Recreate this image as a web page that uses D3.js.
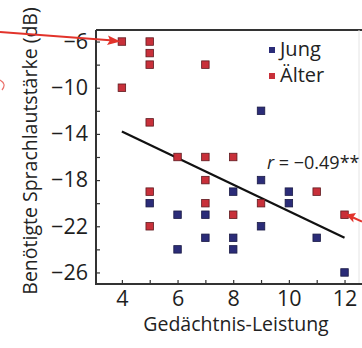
<!DOCTYPE html>
<html lang="de">
<head>
<meta charset="utf-8">
<script src="https://d3js.org/d3.v7.min.js"></script>
<style>
body { margin: 0; background: #fff; }
svg { font-family: "Open Sans", sans-serif; }
</style>
</head>
<body>
<script>
// data
var jungX = [9, 9, 8, 10, 5, 10, 6, 7, 9, 7, 8, 11, 6, 8, 12];
var jungY = [-12, -18, -19, -19, -20, -20, -21, -21, -22, -23, -23, -23, -24, -24, -26];
var alterX = [4, 5, 5, 5, 7, 4, 5, 6, 7, 8, 7, 5, 11, 7, 9, 8, 12, 5];
var alterY = [-6, -6, -7, -8, -8, -10, -13, -16, -16, -16, -18, -19, -19, -20, -20, -21, -21, -22];
var fitX = [4, 12];
var fitY = [-13.8, -23.0];
var yTickLabels = [-26, -22, -18, -14, -10, -6];
var xTickLabels = [4, 6, 8, 10, 12];
var seriesNames = ["Jung", "Älter"];
var seriesColors = ["#2b2c78", "#c8303a"];
var seriesStroke = ["#1b1b45", "#5e1a1f"];

var width = 362, height = 348;
var pLeft = 96, pRight = 359, pTop = 30, pBottom = 284;

var svg = d3.select("body").append("svg")
    .attr("width", width)
    .attr("height", height);

var x = d3.scaleLinear().domain([3.07, 12.52]).range([pLeft, pRight]);
var y = d3.scaleLinear().domain([-27, -5]).range([pBottom, pTop]);

// frame
svg.append("line").attr("x1", pLeft).attr("x2", width).attr("y1", pTop).attr("y2", pTop)
    .attr("stroke", "#333").attr("stroke-width", 2);
svg.append("line").attr("x1", pRight).attr("x2", pRight).attr("y1", pTop).attr("y2", pBottom)
    .attr("stroke", "#e4e4e4").attr("stroke-width", 1);

// y axis, ticks inward
var yAxis = d3.axisLeft(y)
    .tickValues(d3.range(-26, -5, 2))
    .tickSize(-4)
    .tickPadding(8)
    .tickFormat(function(d) { return yTickLabels.indexOf(d) >= 0 ? d3.format("d")(d) : ""; });
var gy = svg.append("g").attr("transform", "translate(" + pLeft + ",0)").call(yAxis);
gy.select(".domain").attr("d", "M0," + pTop + "V" + pBottom).attr("stroke", "#333").attr("stroke-width", 2);

// x axis, ticks inward
var xAxis = d3.axisBottom(x)
    .tickValues(d3.range(4, 13, 1))
    .tickSize(-4)
    .tickPadding(7)
    .tickFormat(function(d) { return xTickLabels.indexOf(d) >= 0 ? d : ""; });
var gx = svg.append("g").attr("transform", "translate(0," + pBottom + ")").call(xAxis);
gx.select(".domain").attr("d", "M" + (pLeft - 1) + ",0H" + width).attr("stroke", "#333").attr("stroke-width", 2);

svg.selectAll(".tick line").attr("stroke", "#333").attr("stroke-width", 1.2);
svg.selectAll(".tick text").attr("font-family", "Open Sans").attr("font-size", 21.5).attr("fill", "#1e1e1e");

// axis titles
svg.append("text")
    .attr("transform", "translate(37,151) rotate(-90)")
    .attr("text-anchor", "middle")
    .attr("font-size", 19.5).attr("fill", "#222")
    .text("Benötigte Sprachlautstärke (dB)");

svg.append("text")
    .attr("x", 236).attr("y", 331)
    .attr("text-anchor", "middle")
    .attr("font-size", 19.5).attr("fill", "#222")
    .text("Gedächtnis-Leistung");

// regression line
svg.append("line")
    .attr("x1", x(fitX[0])).attr("y1", y(fitY[0]))
    .attr("x2", x(fitX[1])).attr("y2", y(fitY[1]))
    .attr("stroke", "#111").attr("stroke-width", 2.2);

// points
var s = 7.5;
function drawSeries(xs, ys, i) {
    svg.append("g").selectAll("rect")
        .data(xs.map(function(v, k) { return [v, ys[k]]; }))
        .enter().append("rect")
        .attr("x", function(d) { return x(d[0]) - s / 2; })
        .attr("y", function(d) { return y(d[1]) - s / 2; })
        .attr("width", s).attr("height", s)
        .attr("fill", seriesColors[i])
        .attr("stroke", seriesStroke[i]).attr("stroke-width", 0.8);
}
drawSeries(alterX, alterY, 1);
drawSeries(jungX, jungY, 0);

// legend
var lg = svg.append("g").selectAll("g")
    .data(seriesNames)
    .enter().append("g")
    .attr("transform", function(d, i) { return "translate(272," + (50 + i * 26) + ")"; });
lg.append("rect")
    .attr("x", -3).attr("y", -3).attr("width", 6).attr("height", 6)
    .attr("fill", function(d, i) { return seriesColors[i]; });
lg.append("text")
    .attr("x", 8).attr("y", 6)
    .attr("font-size", 20).attr("fill", "#222")
    .text(function(d) { return d; });

// correlation
var rt = svg.append("text").attr("x", 267).attr("y", 169).attr("font-size", 18).attr("fill", "#222");
rt.append("tspan").attr("font-style", "italic").text("r");
rt.append("tspan").text(" = −0.49**");

// red annotation arrows
var red = "#e2332b";
svg.append("path").attr("d", "M0,32 L110,40.2").attr("stroke", red).attr("stroke-width", 2).attr("fill", "none");
svg.append("path").attr("d", "M120.5,41.5 L108,35.5 L110,40.2 L107,45 Z").attr("fill", red);
svg.append("path").attr("d", "M0,80 Q7,84 2,90").attr("stroke", red).attr("stroke-width", 1.2).attr("fill", "none").attr("opacity", 0.7);
svg.append("path").attr("d", "M362,221.5 L353,217.5").attr("stroke", red).attr("stroke-width", 2).attr("fill", "none");
svg.append("path").attr("d", "M346,214.5 L356,213 L353,217.5 L353.5,222.5 Z").attr("fill", red);
</script>
</body>
</html>
